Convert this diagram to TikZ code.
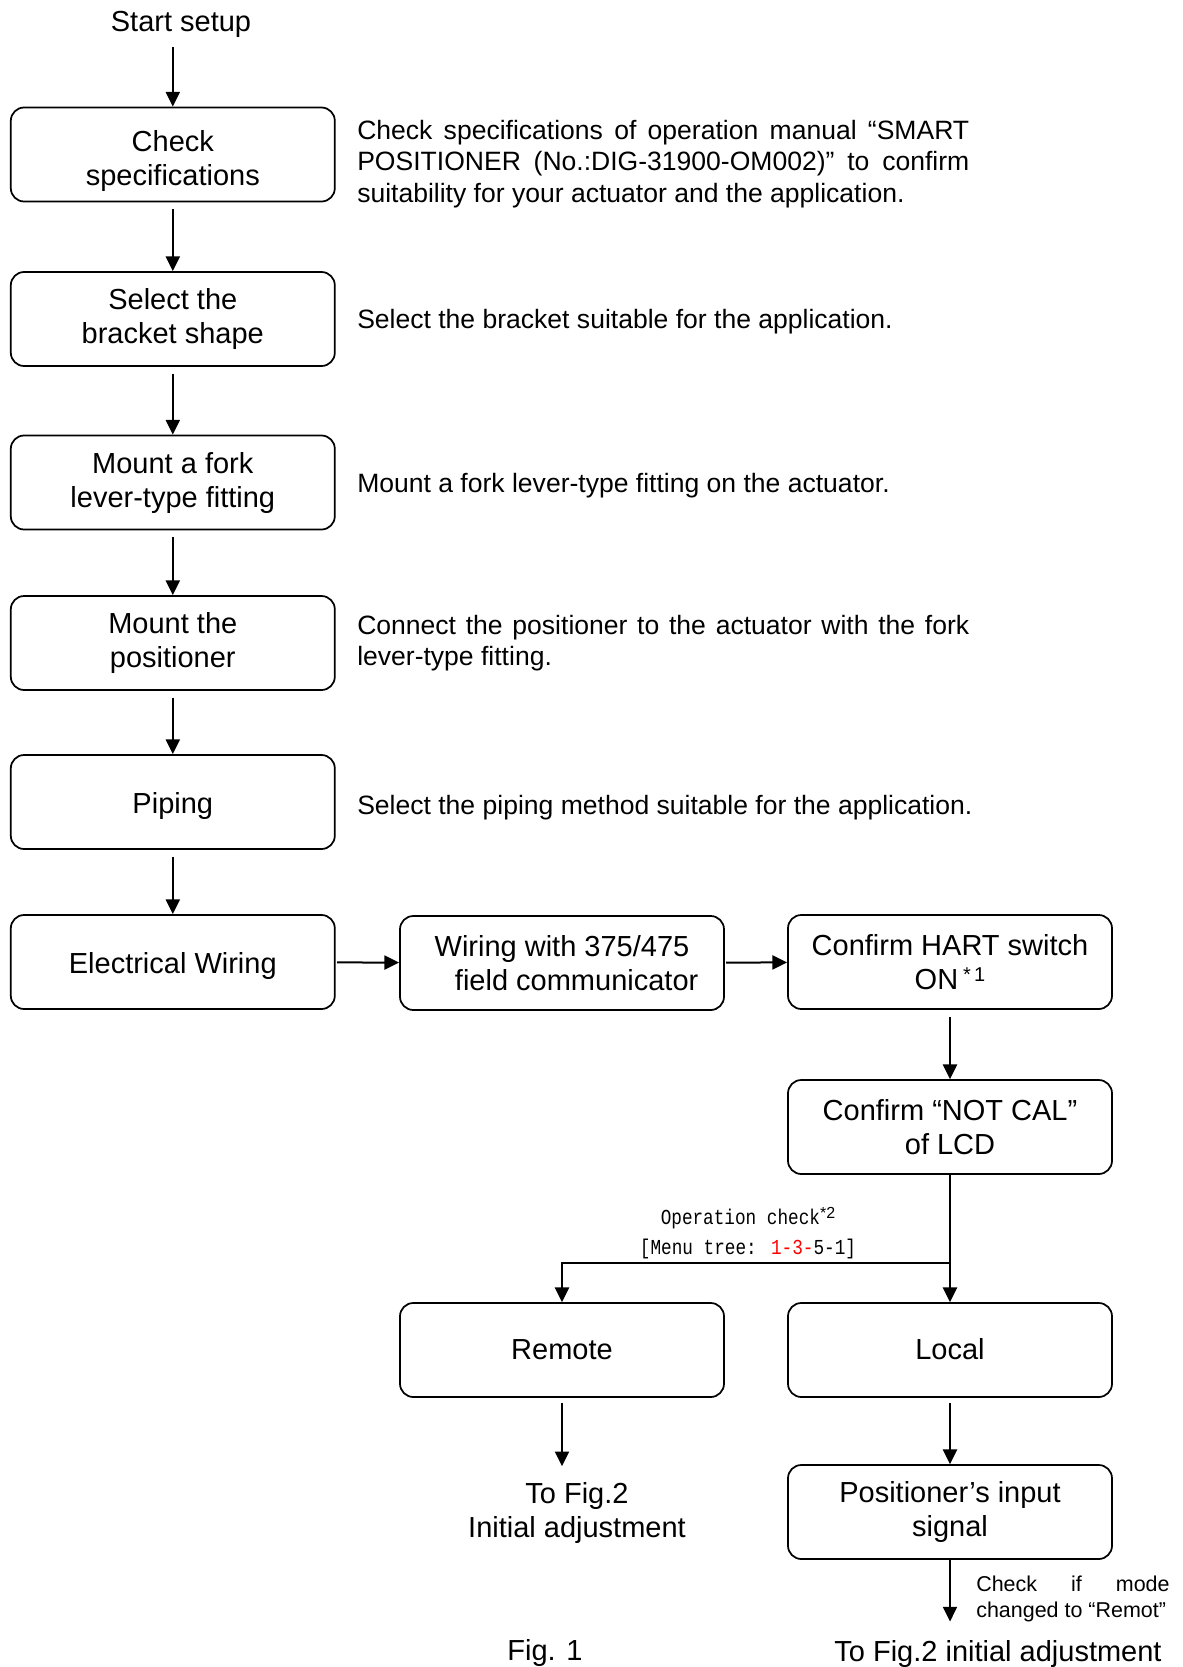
\documentclass[tikz,border=0pt]{standalone}
\usepackage{fontspec}
\setmainfont{Liberation Sans}
\newfontfamily\monof[FakeStretch=0.83]{Liberation Mono}
\usetikzlibrary{arrows.meta}
\begin{document}
\begin{tikzpicture}[x=0.75pt,y=-0.75pt,
  box/.style={draw,line width=1.3pt,rounded corners=10pt,minimum width=243pt,minimum height=70.5pt,
    align=center,inner sep=0pt,font=\fontsize{21.75pt}{25.5pt}\selectfont,
    execute at begin node={\rule{0pt}{22pt}}},
  desc/.style={anchor=west,inner sep=0pt,align=left,font=\fontsize{19.9pt}{23.5pt}\selectfont},
  plain/.style={inner sep=0pt,align=center,font=\fontsize{21.75pt}{25.5pt}\selectfont},
  arr/.style={line width=1.5pt,-{Triangle[length=11pt,width=10.5pt]}}]
\useasboundingbox (0,0) rectangle (1182,1667);

% left column
\node[plain] (start) at (181,24) {Start setup};
\node[box] (L1) at (172.8,154.5) {\rule{0pt}{26pt}Check\\specifications};
\node[box] (L2) at (172.8,319) {Select the\\bracket shape};
\node[box] (L3) at (172.8,482.5) {Mount a fork\\lever-type fitting};
\node[box] (L4) at (172.8,643) {Mount the\\positioner};
\node[box] (L5) at (172.8,802) {Piping};
\node[box] (L6) at (172.8,962) {Electrical Wiring};

% descriptions
\node[desc] (D1) at (357,164) {\makebox[459pt][s]{Check specifications of operation manual “SMART}\\
  \makebox[459pt][s]{POSITIONER (No.:DIG-31900-OM002)” to confirm}\\
  suitability for your actuator and the application.};
\node[desc] (D2) at (357,322) {Select the bracket suitable for the application.};
\node[desc] (D3) at (357,486) {Mount a fork lever-type fitting on the actuator.};
\node[desc] (D4) at (357,643) {\makebox[459pt][s]{Connect the positioner to the actuator with the fork}\\
  lever-type fitting.};
\node[desc] (D5) at (357,808) {Select the piping method suitable for the application.};

% right part
\node[box] (M) at (562,963) {Wiring with 375/475\\\hspace*{22pt}field communicator};
\node[box] (HART) at (950,962) {Confirm HART switch\\ON\,\raisebox{0.5ex}{\fontsize{15pt}{15pt}\selectfont*\,1}};
\node[box] (NC) at (950,1127) {Confirm “NOT CAL”\\of LCD};
\node[box] (REM) at (562,1350) {\raisebox{4pt}{Remote}};
\node[box] (LOC) at (950,1350) {\raisebox{4pt}{Local}};
\node[box] (PI) at (950,1512) {Positioner’s input\\signal};

\node[inner sep=0pt,align=center,font=\monof\fontsize{16pt}{22.5pt}\selectfont] (OC) at (748,1233)
  {Operation check\raisebox{0.6ex}{\fontsize{12pt}{12pt}\selectfont\rmfamily*2}\\
   {[}Menu tree: \textcolor{red}{1-3-}5-1{]}};

\node[plain] (TF) at (577,1513) {To Fig.2\\Initial adjustment};
\node[inner sep=0pt,align=left,anchor=west,font=\fontsize{16.1pt}{19pt}\selectfont] (CM) at (976,1599)
  {\makebox[145pt][s]{Check if mode}\\changed to “Remot”};
\node[plain] (FIG) at (545,1653) {Fig. 1};
\node[plain] (TF2) at (998,1654) {To Fig.2 initial adjustment};

\coordinate (br) at (950,1263);

% connectors
\draw[arr] (L1.north |- start.south) ++(0,10) -- (L1.north);
\draw[arr,shorten <=5pt] (L1) -- (L2);
\draw[arr,shorten <=5pt] (L2) -- (L3);
\draw[arr,shorten <=5pt] (L3) -- (L4);
\draw[arr,shorten <=5pt] (L4) -- (L5);
\draw[arr,shorten <=5pt] (L5) -- (L6);
\draw[arr,shorten <=1pt] (L6) -- (M);
\draw[arr,shorten <=1pt] (M) -- (HART);
\draw[arr,shorten <=5pt] (HART) -- (NC);
\draw[arr] (NC) -- (LOC);
\draw[arr] (br) -| (REM.north);
\draw[arr,shorten <=4pt,shorten >=12pt] (REM.south) -- (REM.south |- TF.north);
\draw[arr,shorten <=4pt] (LOC) -- (PI);
\draw[arr,shorten >=14pt] (PI.south) -- (PI.south |- TF2.north);
\end{tikzpicture}
\end{document}
